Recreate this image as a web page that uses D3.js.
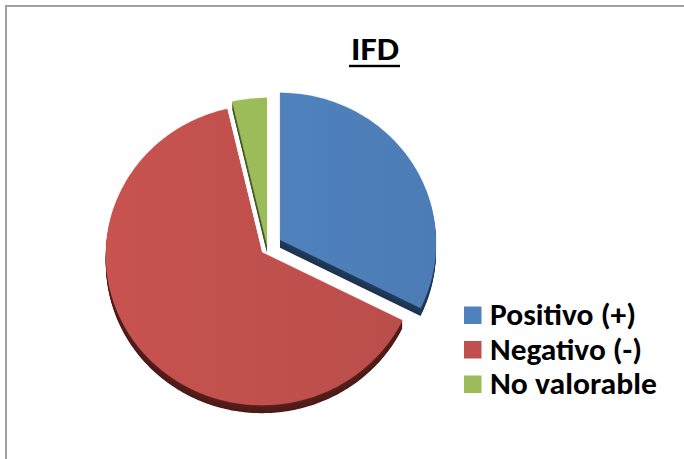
<!DOCTYPE html>
<html>
<head>
<meta charset="utf-8">
<script src="https://cdn.jsdelivr.net/npm/d3@7"></script>
<style>
  html, body { margin: 0; padding: 0; background: #fff; }
  svg { display: block; }
</style>
</head>
<body>
<svg id="chart" width="684" height="459"></svg>
<script>
// Data
const title = "IFD";
const categories = ["Positivo (+)", "Negativo (-)", "No valorable"];
const values = [9, 18, 1];

// Styling
const faceColors = ["#4F81BD", "#C0504D", "#9BBB59"];
const sideColors = ["#233D5F", "#5A1F1D", "#4E6228"];
const explode = [15, 7, 3];          // px offset of each slice along its bisector
const center = { x: 267.3, y: 247.8 };
const rx = 156, ry = 150;            // tilted (elliptical) pie face
const perspectiveDrop = 3;           // ellipse centre sits a bit below the pivot
const depth = 8;                     // thickness of the pie
const fontStack = "Carlito, Lato, 'Liberation Sans', sans-serif";

const svg = d3.select("#chart");
const defs = svg.append("defs");

// Chart area frame
svg.append("rect")
  .attr("x", 6).attr("y", 6)
  .attr("width", 720).attr("height", 480)
  .attr("fill", "#fff")
  .attr("stroke", "#a0a0a0")
  .attr("stroke-width", 2);

// Soft horizontal shading on the faces
faceColors.forEach((c, i) => {
  const g = defs.append("linearGradient")
    .attr("id", "face" + i)
    .attr("gradientUnits", "userSpaceOnUse")
    .attr("x1", 100).attr("y1", 0).attr("x2", 440).attr("y2", 0);
  g.append("stop").attr("offset", 0).attr("stop-color", d3.color(c).brighter(0.12));
  g.append("stop").attr("offset", 1).attr("stop-color", d3.color(c).darker(0.12));
});

const pie = d3.pie().sort(null).value(d => d);
const arcs = pie(values);

function slicePath(a, dy) {
  const mid = (a.startAngle + a.endAngle) / 2;
  const e = explode[a.index];
  const px = center.x + e * Math.sin(mid);
  const py = center.y - e * Math.cos(mid) + dy;
  const ecx = px, ecy = py + perspectiveDrop;
  const n = Math.max(2, Math.ceil((a.endAngle - a.startAngle) / (Math.PI / 180)));
  const pts = [[px, py]];
  d3.range(n + 1).forEach(k => {
    const t = a.startAngle + (a.endAngle - a.startAngle) * k / n;
    pts.push([ecx + rx * Math.sin(t), ecy - ry * Math.cos(t)]);
  });
  return d3.line()(pts) + "Z";
}

const pieG = svg.append("g");

// Extruded sides (stacked copies shifted downward)
arcs.forEach(a => {
  const base = d3.color(sideColors[a.index]);
  for (let s = depth; s >= 1; s--) {
    const col = d3.interpolateRgb(base.darker(0.5), base)(1 - s / depth);
    pieG.append("path")
      .attr("d", slicePath(a, s))
      .attr("fill", col);
  }
});

// Top faces
arcs.forEach(a => {
  pieG.append("path")
    .attr("d", slicePath(a, 0))
    .attr("fill", `url(#face${a.index})`)
    .attr("stroke", d3.color(faceColors[a.index]).brighter(0.3))
    .attr("stroke-opacity", 0.35)
    .attr("stroke-width", 0.8);
});

// Title
svg.append("text")
  .attr("x", 375).attr("y", 59.5)
  .attr("text-anchor", "middle")
  .attr("font-family", fontStack)
  .attr("font-weight", "bold")
  .attr("font-size", 33)
  .attr("fill", "#000")
  .attr("textLength", 48)
  .attr("lengthAdjust", "spacingAndGlyphs")
  .text(title);
svg.append("rect")
  .attr("x", 349).attr("y", 64.8)
  .attr("width", 51).attr("height", 2.4)
  .attr("fill", "#000");

// Legend
const legendWidths = [146, 152, 167];
const legend = svg.append("g").attr("transform", "translate(464,306.5)");
categories.forEach((name, i) => {
  const row = legend.append("g").attr("transform", `translate(0,${i * 34.5})`);
  row.append("rect")
    .attr("width", 17.5).attr("height", 17.5)
    .attr("fill", faceColors[i]);
  row.append("text")
    .attr("x", 26).attr("y", 18.8)
    .attr("font-family", fontStack)
    .attr("font-weight", "bold")
    .attr("font-size", 30)
    .attr("fill", "#000")
    .attr("textLength", legendWidths[i])
    .attr("lengthAdjust", "spacingAndGlyphs")
    .text(name);
});
</script>
</body>
</html>
